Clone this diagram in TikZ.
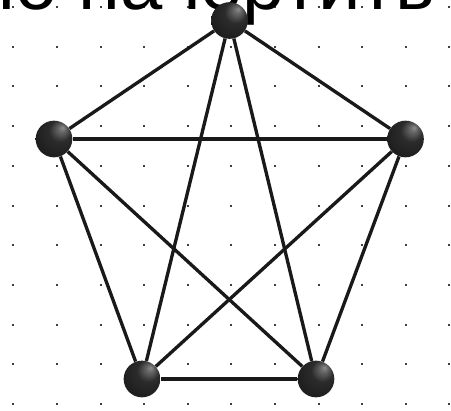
\documentclass[tikz,border=0pt]{standalone}
\usepackage{fontspec}
\setmainfont{Liberation Sans}
\pgfdeclareradialshading{gball}{\pgfpoint{12bp}{16bp}}{color(0bp)=(black!45); color(5bp)=(black!60); color(15bp)=(black!83); color(30bp)=(black!88); color(50bp)=(black!96)}
\begin{document}
\begin{tikzpicture}[x=0.75pt,y=-0.75pt,
  vertex/.style={circle, inner sep=0pt, minimum size=27.5pt, shading=gball},
  edge/.style={draw=black!90, line width=2.5pt},
  griddot/.style={fill=black!75},
  title/.style={anchor=base west, inner sep=0pt, font=\fontsize{57}{57}\selectfont}]
\useasboundingbox (0,0) rectangle (451,411);
\clip (0,0) rectangle (451,411);
\fill[white] (0,0) rectangle (451,411);
\foreach \i in {0,...,10}
  \foreach \j in {0,...,10}
    \fill[griddot] (13.3+43.6*\i-1, 7+39.7*\j-1) rectangle ++(2,2);
\node[title] (caption) at (-27,9.5) {но начертить};
\node[vertex] (t) at (229.5,20.5) {};
\node[vertex] (l) at (54,139) {};
\node[vertex] (r) at (405.5,139) {};
\node[vertex] (bl) at (142,379) {};
\node[vertex] (br) at (316,379) {};
\draw[edge] (t) -- (l);
\draw[edge] (t) -- (r);
\draw[edge] (t) -- (bl);
\draw[edge] (t) -- (br);
\draw[edge] (l) -- (r);
\draw[edge] (l) -- (bl);
\draw[edge] (l) -- (br);
\draw[edge] (r) -- (bl);
\draw[edge] (r) -- (br);
\draw[edge] (bl) -- (br);
\end{tikzpicture}
\end{document}
